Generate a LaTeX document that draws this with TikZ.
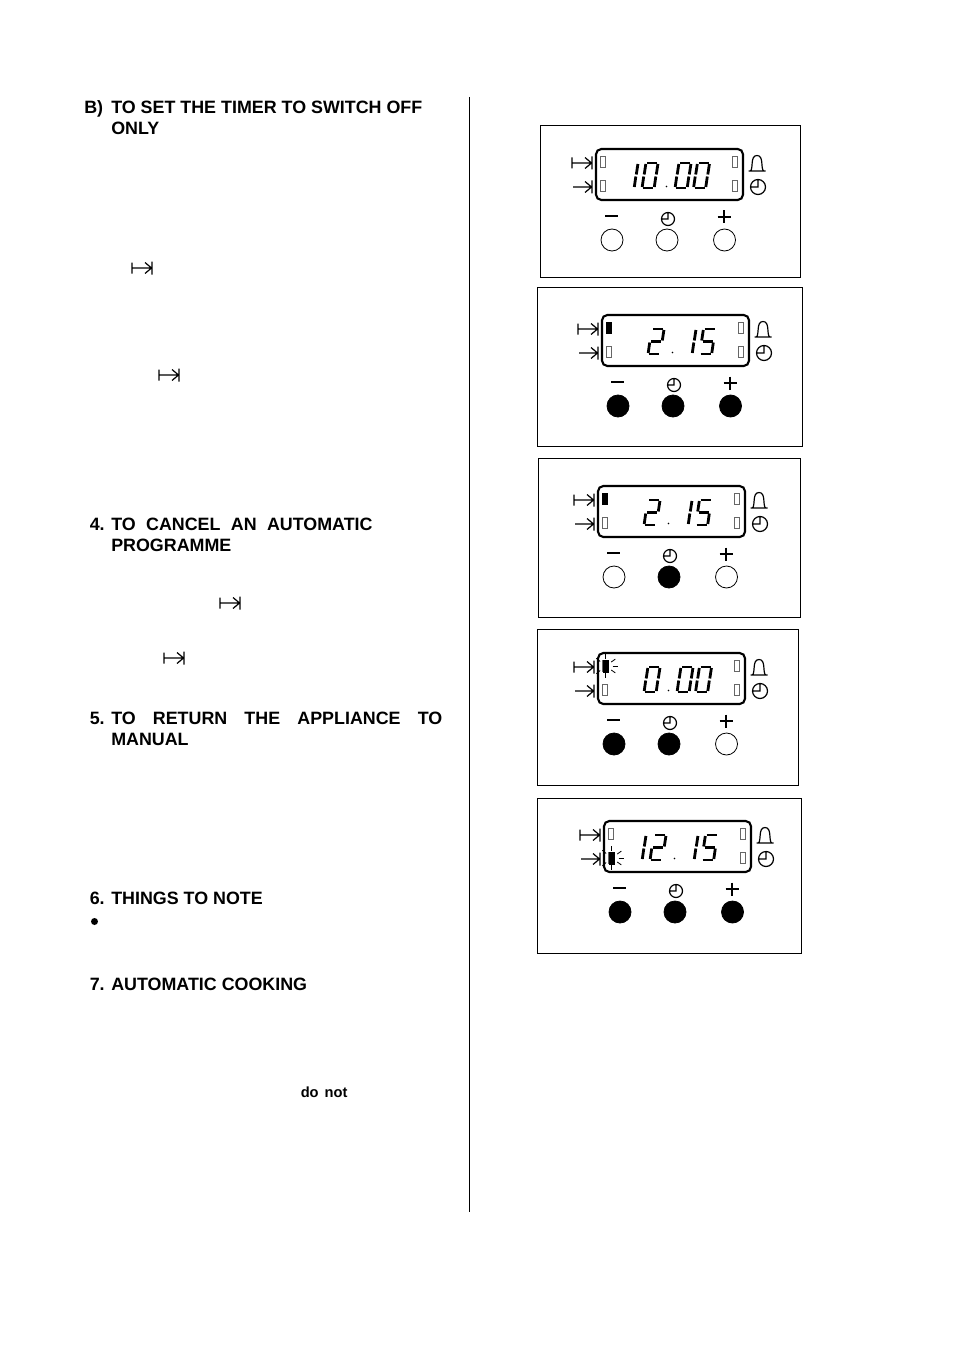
\documentclass[tikz,border=0pt]{standalone}
\usepackage{fontspec}
\setmainfont{Liberation Sans}
\tikzset{
    headtext/.style = {anchor = base west, inner sep = 0pt, font = \fontsize{13.4}{15}\selectfont\bfseries},
    panelbox/.style = {line width = 0.7pt},
    lcdbox/.style = {line width = 1.6pt, rounded corners = 4pt},
    segline/.style = {line width = 2.1pt},
    flagbox/.style = {draw = black!60, line width = 0.6pt},
    flagon/.style = {fill = black, draw = black, line width = 0.6pt},
    btnoff/.style = {line width = 0.6pt},
    btnon/.style = {fill = black, line width = 0.6pt},
    iconline/.style = {line width = 0.9pt}
}
% small symbols, #1 and #2 give the place
\newcommand{\stoparrow}[2]{%
    \draw[iconline, shift = {(#1, #2)}] (0, -5.5) -- (0, 5.5) (0, 0) -- (20, 0) (20, -6.5) -- (20, 6.5)
        (13, -5.5) -- (19.5, 0) -- (13, 5.5);}
\newcommand{\startarrow}[2]{%
    \draw[iconline, shift = {(#1, #2)}] (0, 0) -- (19, 0) (19, -6.5) -- (19, 6.5)
        (12, -5.5) -- (18.5, 0) -- (12, 5.5);}
\newcommand{\bellicon}[2]{%
    \draw[iconline, shift = {(#1, #2)}] (-8.5, 8) -- (8.5, 8) (-6.5, 8) .. controls (-3.5, 5) and (-7, -7.5) .. (0, -7.5)
        .. controls (7, -7.5) and (3.5, 5) .. (6.5, 8);}
\newcommand{\clockicon}[3]{%
    \draw[iconline, shift = {(#1, #2)}] (0, 0) circle (#3) (0, -#3) -- (0, 0) -- (-#3, 0);}
% one slanted digit, segments given as a list
\newcommand{\sega}{\draw[segline] (5, 0) -- (15, 0);}
\newcommand{\segb}{\draw[segline] (15.9, 1) -- (14.3, 11.5);}
\newcommand{\segc}{\draw[segline] (13.8, 13.5) -- (12.3, 24);}
\newcommand{\segd}{\draw[segline] (1, 25) -- (11, 25);}
\newcommand{\sege}{\draw[segline] (0.2, 24) -- (1.7, 13.5);}
\newcommand{\segf}{\draw[segline] (2.2, 11.5) -- (3.8, 1);}
\newcommand{\segg}{\draw[segline] (3, 12.5) -- (13, 12.5);}
\newcommand{\lcddigit}[2]{%
    \begin{scope}[shift = {(#1, 14)}]
        \foreach \s in {#2} {\csname seg\s\endcsname}
    \end{scope}}
% display, side icons and the three buttons, origin at the display corner
\newcommand{\panelface}[3]{%
    \draw[lcdbox] (0, 0) rectangle (147, 51);
    \draw[flagbox] (4, 7) rectangle (9, 18) (4, 31) rectangle (9, 42);
    \draw[flagbox] (136, 7) rectangle (141, 18) (136, 31) rectangle (141, 42);
    \stoparrow{-24}{14}
    \startarrow{-23}{38}
    \bellicon{161}{14}
    \clockicon{162}{38}{7.5}
    \fill (70.5, 37.5) circle (0.8);
    \draw[line width = 1.3pt] (9, 67) -- (22, 67);
    \draw[line width = 1.3pt] (121.5, 68) -- (134.5, 68) (128, 61.5) -- (128, 74.5);
    \clockicon{72}{70}{6.5}
    \draw[#1] (16, 91) circle (11);
    \draw[#2] (71, 91) circle (11);
    \draw[#3] (128.5, 91) circle (11);
}
\newcommand{\flashrays}{%
    \foreach \a in {-140, -90, -35, 0, 35, 90, 140} {
        \draw[line width = 0.6pt] (\a:7) -- (\a:12);
    }
}
\begin{document}
\begin{tikzpicture}[x = 0.75pt, y = -0.75pt]%
    \useasboundingbox (0, 0) rectangle (954, 1355);
    \draw[line width = 0.6pt] (469, 97) -- (469, 1212);

    % left column
    \node[headtext] (headb) at (84, 114) {B)};
    \node[headtext] (headbtext) at (111, 114) {TO SET THE TIMER TO SWITCH OFF};
    \node[headtext] (headbmore) at (111, 135) {ONLY};
    \node[headtext] (headfour) at (89.5, 530) {4.};
    \node[headtext] (headfourtext) at (111, 530) {\makebox[196pt][s]{TO CANCEL AN AUTOMATIC}};
    \node[headtext] (headfourmore) at (111, 551) {PROGRAMME};
    \node[headtext] (headfive) at (89.5, 724) {5.};
    \node[headtext] (headfivetext) at (111, 724) {\makebox[248.25pt][s]{TO RETURN THE APPLIANCE TO}};
    \node[headtext] (headfivemore) at (111, 745) {MANUAL};
    \node[headtext] (headsix) at (89.5, 904) {6.};
    \node[headtext] (headsixtext) at (111, 904) {THINGS TO NOTE};
    \fill (94.5, 921.5) circle (3.5);
    \node[headtext] (headseven) at (89.5, 990) {7.};
    \node[headtext] (headseventext) at (111, 990) {AUTOMATIC COOKING};
    \node[headtext, font = \fontsize{11}{13}\selectfont\bfseries] (donot) at (300.5, 1097) {do\hspace{4.5pt}not};

    \stoparrow{132}{268}
    \stoparrow{159}{375}
    \stoparrow{220}{603}
    \stoparrow{164}{658}

    % panel with the time of day
    \draw[panelbox] (540, 125) rectangle (800, 277);
    \begin{scope}[shift = {(596, 149)}]
        \panelface{btnoff}{btnoff}{btnoff}
        \lcddigit{26}{b,c}
        \lcddigit{46}{a,b,c,d,e,f}
        \lcddigit{79}{a,b,c,d,e,f}
        \lcddigit{97.5}{a,b,c,d,e,f}
    \end{scope}

    % all three buttons pressed
    \draw[panelbox] (537, 287) rectangle (802, 446);
    \begin{scope}[shift = {(602, 315)}]
        \panelface{btnon}{btnon}{btnon}
        \draw[flagon] (4, 7) rectangle (9, 18);
        \lcddigit{46}{a,b,g,e,d}
        \lcddigit{78}{b,c}
        \lcddigit{97.5}{a,f,g,c,d}
    \end{scope}

    % clock button pressed
    \draw[panelbox] (538, 458) rectangle (800, 617);
    \begin{scope}[shift = {(598, 486)}]
        \panelface{btnoff}{btnon}{btnoff}
        \draw[flagon] (4, 7) rectangle (9, 18);
        \lcddigit{46}{a,b,g,e,d}
        \lcddigit{78}{b,c}
        \lcddigit{97.5}{a,f,g,c,d}
    \end{scope}

    % minus and clock pressed
    \draw[panelbox] (537, 629) rectangle (798, 785);
    \begin{scope}[shift = {(598, 653)}]
        \panelface{btnon}{btnon}{btnoff}
        \draw[flagon] (5, 7) rectangle (10, 19);
        \begin{scope}[shift = {(7.5, 13)}]
            \flashrays
        \end{scope}
        \lcddigit{46}{a,b,c,d,e,f}
        \lcddigit{79}{a,b,c,d,e,f}
        \lcddigit{97.5}{a,b,c,d,e,f}
    \end{scope}

    % end of the programme
    \draw[panelbox] (537, 798) rectangle (801, 953);
    \begin{scope}[shift = {(604, 821)}]
        \panelface{btnon}{btnon}{btnon}
        \draw[flagon] (5, 31) rectangle (10, 43);
        \begin{scope}[shift = {(7.5, 37)}]
            \flashrays
        \end{scope}
        \lcddigit{26}{b,c}
        \lcddigit{46}{a,b,g,e,d}
        \lcddigit{78}{b,c}
        \lcddigit{97.5}{a,f,g,c,d}
    \end{scope}
\end{tikzpicture}
\end{document}
